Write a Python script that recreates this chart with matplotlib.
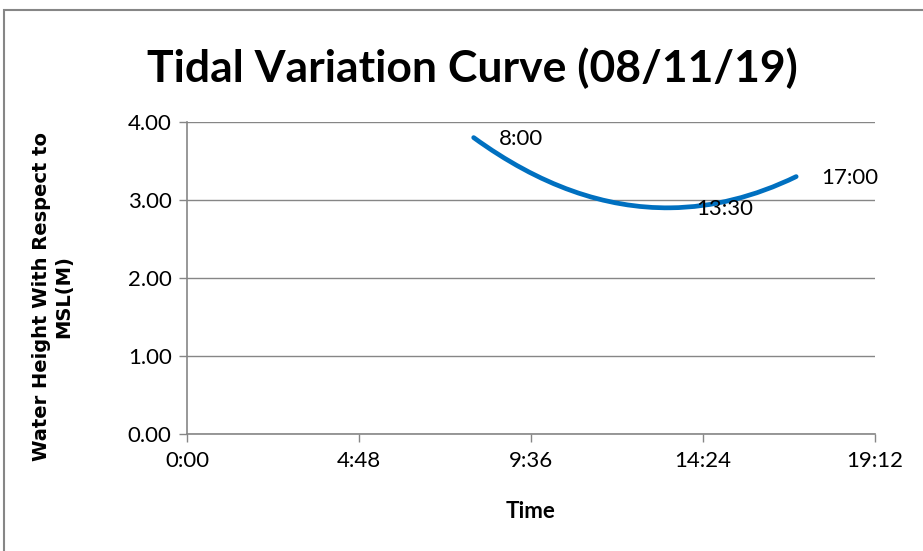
import numpy as np
import matplotlib.pyplot as plt
from matplotlib.path import Path
from matplotlib.patches import PathPatch, Rectangle

plt.rcParams['font.family'] = ['Lato', 'DejaVu Sans']

# data : heure (h) et hauteur d'eau (m)
times_h = [8.0, 13.5, 17.0]
heights = [3.8, 2.9, 3.3]
point_labels = ['8:00', '13:30', '17:00']

xticks_h = [0, 4.8, 9.6, 14.4, 19.2]
xtick_labels = ['0:00', '4:48', '9:36', '14:24', '19:12']
yticks = [0, 1, 2, 3, 4]

fig = plt.figure(figsize=(9.23, 5.51), dpi=100)
ax = fig.add_axes([0.2026, 0.2123, 0.7454, 0.5663])

ax.set_xlim(0, 19.2)
ax.set_ylim(0, 4)

# courbe lissee (bezier, tangentes paraboliques a 3 points)
x = np.array(times_h)
y = np.array(heights)
n = len(x)

def pente(i):
    # derivee de la parabole passant par 3 points voisins
    j = min(max(i, 1), n - 2)
    x0, x1, x2 = x[j - 1], x[j], x[j + 1]
    y0, y1, y2 = y[j - 1], y[j], y[j + 1]
    t = x[i]
    return (y0 * (2 * t - x1 - x2) / ((x0 - x1) * (x0 - x2))
            + y1 * (2 * t - x0 - x2) / ((x1 - x0) * (x1 - x2))
            + y2 * (2 * t - x0 - x1) / ((x2 - x0) * (x2 - x1)))

d = [pente(i) for i in range(n)]
verts = [(x[0], y[0])]
codes = [Path.MOVETO]
for i in range(n - 1):
    dx = x[i + 1] - x[i]
    verts += [(x[i] + dx / 3, y[i] + d[i] * dx / 3),
              (x[i + 1] - dx / 3, y[i + 1] - d[i + 1] * dx / 3),
              (x[i + 1], y[i + 1])]
    codes += [Path.CURVE4] * 3
ax.add_patch(PathPatch(Path(verts, codes), facecolor='none',
                       edgecolor='#0070C0', lw=3.4, capstyle='round', zorder=3))

for t, h, lab in zip(times_h, heights, point_labels):
    ax.annotate(lab, (t, h), xytext=(18, -1), textcoords='offset points',
                ha='left', va='center', fontsize=16)

ax.set_xticks(xticks_h)
ax.set_xticklabels(xtick_labels)
ax.set_yticks(yticks)
ax.set_yticklabels(['%.2f' % v for v in yticks])
ax.tick_params(labelsize=16, color='#868686', length=6, width=1)
ax.tick_params(axis='x', pad=6)
ax.tick_params(axis='y', pad=5)

ax.grid(axis='y', color='#868686', lw=1)
ax.set_axisbelow(True)
for s in ['top', 'right']:
    ax.spines[s].set_visible(False)
for s in ['left', 'bottom']:
    ax.spines[s].set_color('#868686')
    ax.spines[s].set_linewidth(1.2)

ax.set_xlabel('Time', fontsize=16, fontweight='bold')
ax.xaxis.set_label_coords(0.5, -0.215)
ax.set_ylabel('Water Height With Respect to\nMSL(M)', fontsize=14,
              fontweight='bold', family='DejaVu Sans', linespacing=1.25)
ax.yaxis.set_label_coords(-0.165, 0.442)

fig.text(0.512, 0.877, 'Tidal Variation Curve (08/11/19)', ha='center',
         va='center', fontsize=32, fontweight='bold')

# cadre du graphique
fig.patches.append(Rectangle((4 / 923, -0.1), 1.1, (541 + 55) / 551,
                             transform=fig.transFigure, fill=False,
                             edgecolor='#868686', lw=1.5))

plt.savefig('out.png', dpi=100)
